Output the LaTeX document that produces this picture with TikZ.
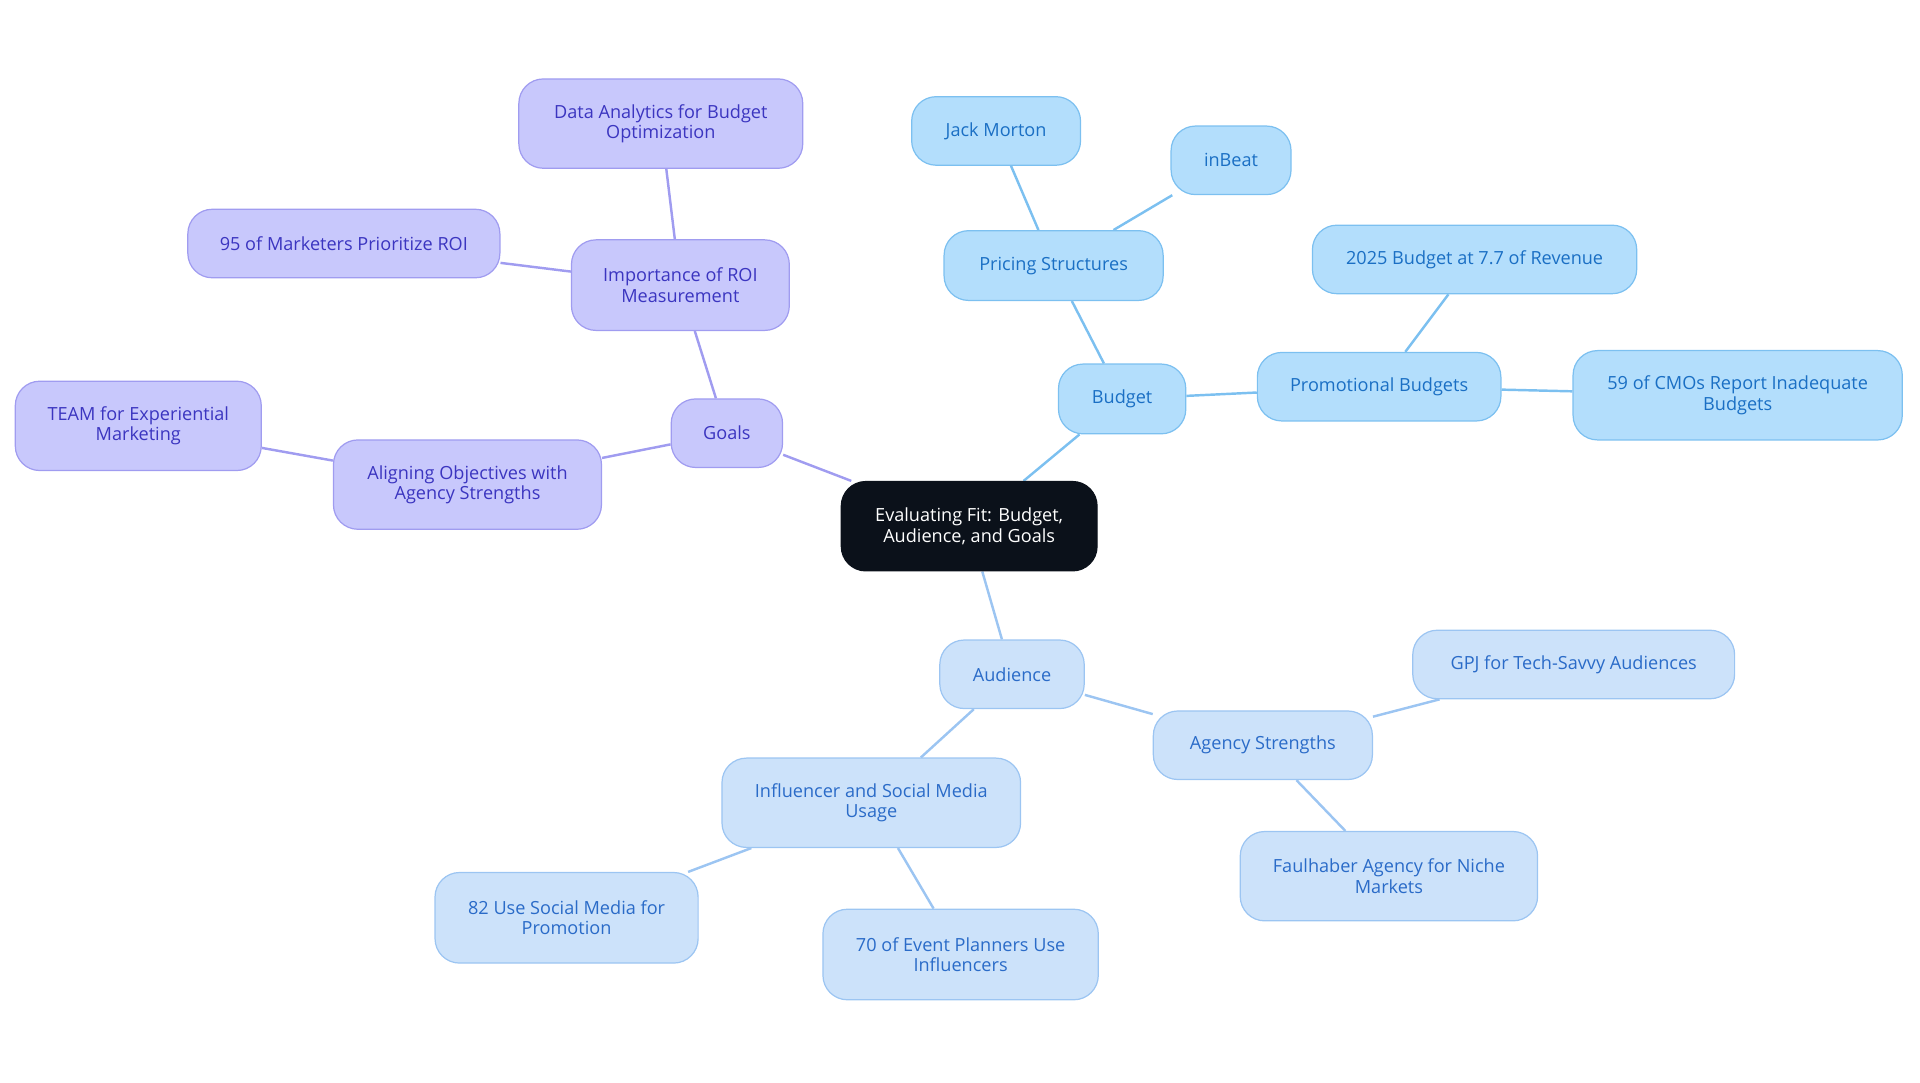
\documentclass[tikz,border=0pt]{standalone}
\usepackage{fontspec}
\setmainfont{Open Sans}
\usetikzlibrary{backgrounds}
\definecolor{bfill}{HTML}{B3DEFC}\definecolor{bdraw}{HTML}{7CC0F0}\definecolor{btext}{HTML}{1A6FC4}
\definecolor{afill}{HTML}{CCE2FA}\definecolor{adraw}{HTML}{9CC5F2}\definecolor{atext}{HTML}{2A6BC8}
\definecolor{gfill}{HTML}{C8C8FC}\definecolor{gdraw}{HTML}{A09CF0}\definecolor{gtext}{HTML}{3B35C0}
\definecolor{cfill}{HTML}{0B111A}
\tikzset{
 box/.style n args={2}{draw, rounded corners=10pt, minimum width=#1*0.5pt, minimum height=#2*0.5pt, align=center, font=\fontsize{7.4}{8.4}\selectfont, inner sep=0pt, line width=0.5pt},
 bb/.style={fill=bfill, draw=bdraw, text=btext},
 ab/.style={fill=afill, draw=adraw, text=atext},
 gb/.style={fill=gfill, draw=gdraw, text=gtext},
 be/.style={draw=bdraw, line width=1pt},
 ae/.style={draw=adraw, line width=1pt},
 ge/.style={draw=gdraw, line width=1pt},
}
\begin{document}
\begin{tikzpicture}[x=0.5pt,y=-0.5pt]
\useasboundingbox (0,0) rectangle (1569,885);
\node[box={209}{73}, fill=cfill, draw=cfill, text=white] (c) at (792,430) {Evaluating Fit: Budget,\\Audience, and Goals};
\node[box={104}{57}, bb] (b) at (917,326) {Budget};
\node[box={179}{57}, bb] (ps) at (861,217) {Pricing Structures};
\node[box={138}{56}, bb] (jm) at (814,107) {Jack Morton};
\node[box={98}{56}, bb] (ib) at (1006,131) {inBeat};
\node[box={199}{56}, bb] (pb) at (1127,316) {Promotional Budgets};
\node[box={265}{56}, bb] (b25) at (1205,212) {2025 Budget at 7.7 of Revenue};
\node[box={269}{73}, bb] (cmo) at (1420,323) {59 of CMOs Report Inadequate\\Budgets};
\node[box={118}{56}, ab] (a) at (827,551) {Audience};
\node[box={179}{56}, ab] (as) at (1032,609) {Agency Strengths};
\node[box={263}{56}, ab] (gpj) at (1286,543) {GPJ for Tech-Savvy Audiences};
\node[box={243}{73}, ab] (fa) at (1135,716) {Faulhaber Agency for Niche\\Markets};
\node[box={244}{73}, ab] (inf) at (712,656) {Influencer and Social Media\\Usage};
\node[box={215}{74}, ab] (u82) at (463,750) {82 Use Social Media for\\Promotion};
\node[box={225}{74}, ab] (e70) at (785,780) {70 of Event Planners Use\\Influencers};
\node[box={91}{56}, gb] (g) at (594,354) {Goals};
\node[box={178}{74}, gb] (roi) at (556,233) {Importance of ROI\\Measurement};
\node[box={232}{73}, gb] (da) at (540,101) {Data Analytics for Budget\\Optimization};
\node[box={255}{56}, gb] (m95) at (281,199) {95 of Marketers Prioritize ROI};
\node[box={219}{73}, gb] (al) at (382,396) {Aligning Objectives with\\Agency Strengths};
\node[box={201}{73}, gb] (team) at (113,348) {TEAM for Experiential\\Marketing};
\begin{scope}[on background layer]
\draw[be] (c) -- (b); \draw[be] (b) -- (ps); \draw[be] (ps) -- (jm); \draw[be] (ps) -- (ib);
\draw[be] (b) -- (pb); \draw[be] (pb) -- (b25); \draw[be] (pb) -- (cmo);
\draw[ae] (c) -- (a); \draw[ae] (a) -- (as); \draw[ae] (as) -- (gpj); \draw[ae] (as) -- (fa);
\draw[ae] (a) -- (inf); \draw[ae] (inf) -- (u82); \draw[ae] (inf) -- (e70);
\draw[ge] (c) -- (g); \draw[ge] (g) -- (roi); \draw[ge] (roi) -- (da); \draw[ge] (roi) -- (m95);
\draw[ge] (g) -- (al); \draw[ge] (al) -- (team);
\end{scope}
\end{tikzpicture}
\end{document}
